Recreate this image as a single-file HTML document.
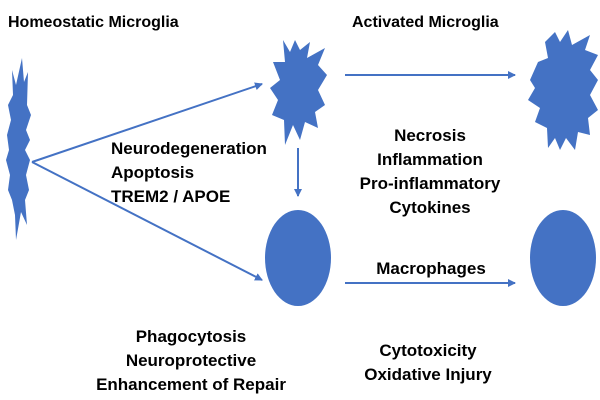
<!DOCTYPE html>
<html><head><style>
body{margin:0;background:#fff;}
svg{display:block}
text{font-family:"Liberation Sans",sans-serif;font-weight:bold;font-size:17px;fill:#000}
</style></head><body>
<svg width="600" height="400" viewBox="0 0 600 400">
<defs><marker id="a" markerWidth="8" markerHeight="8" refX="7" refY="4" orient="auto" markerUnits="userSpaceOnUse"><path d="M0,0 L8,4 L0,8 z" fill="#4472C4"/></marker></defs>
<g fill="#4472C4">
<polygon points="22,58 24,82 28,72 27,105 31,115 26,130 30,140 25,150 30,160 26,175 29,190 25,200 27,225 21,212 16,240 15,215 12,200 8,190 10,175 6,160 9,150 7,135 11,120 8,105 13,95 12,70 16,85"/>
<polygon points="283,40 290,52 295,40 300,50 310,42 307,58 325,48 318,65 327,75 318,90 325,105 315,112 318,128 305,122 300,140 293,125 285,145 284,120 272,115 278,100 270,88 280,80 273,62 285,62"/>
<polygon points="555,32 560,42 568,30 572,45 590,35 585,50 598,55 590,70 598,80 590,95 598,110 588,118 590,135 578,132 575,150 566,138 560,150 555,138 548,148 547,128 535,122 540,108 528,100 535,88 530,80 538,62 548,58 545,42"/>
<ellipse cx="298" cy="258" rx="33" ry="48"/>
<ellipse cx="563" cy="258" rx="33" ry="48"/>
</g>
<g stroke="#4472C4" stroke-width="2" fill="none" marker-end="url(#a)">
<line x1="32" y1="162" x2="262" y2="84"/>
<line x1="32" y1="162" x2="262" y2="280"/>
<line x1="298" y1="148" x2="298" y2="196"/>
<line x1="345" y1="75" x2="515" y2="75"/>
<line x1="345" y1="283" x2="515" y2="283"/>
</g>
<text x="8" y="27" style="font-size:16px">Homeostatic Microglia</text>
<text x="352" y="27" style="font-size:16px">Activated Microglia</text>
<text x="111" y="154">Neurodegeneration</text>
<text x="111" y="178">Apoptosis</text>
<text x="111" y="202">TREM2 / APOE</text>
<g text-anchor="middle">
<text x="430" y="141">Necrosis</text>
<text x="430" y="165">Inflammation</text>
<text x="430" y="189">Pro-inflammatory</text>
<text x="430" y="213">Cytokines</text>
<text x="431" y="274">Macrophages</text>
<text x="191" y="342">Phagocytosis</text>
<text x="191" y="366">Neuroprotective</text>
<text x="191" y="390">Enhancement of Repair</text>
<text x="428" y="356">Cytotoxicity</text>
<text x="428" y="380">Oxidative Injury</text>
</g>
</svg>
</body></html>
